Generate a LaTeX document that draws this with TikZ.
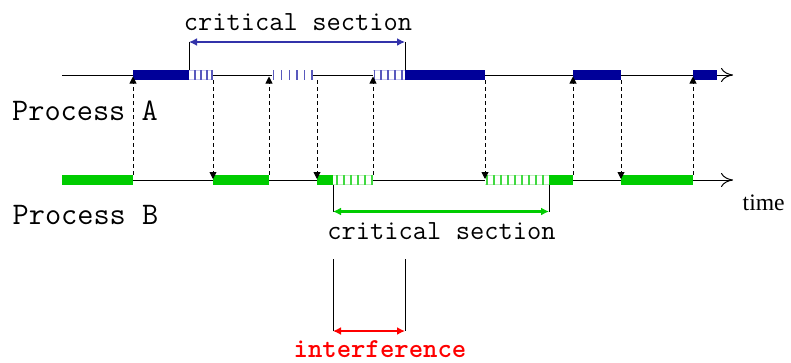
\documentclass[tikz,border=0pt]{standalone}
\usepackage{fontspec}
\setmainfont{Liberation Serif}
\usetikzlibrary{arrows.meta}
\definecolor{barA}{RGB}{0,0,153}
\definecolor{barB}{RGB}{0,204,0}
\definecolor{arrA}{RGB}{51,51,170}
\definecolor{arrB}{RGB}{0,204,0}
\definecolor{hatchA}{RGB}{200,200,240}
\definecolor{hatchB}{RGB}{190,240,190}
\begin{document}
\begin{tikzpicture}[x=1pt,y=-1pt,
  axis/.style={line width=1pt,-{To[length=12,width=14]}},
  signal/.style={line width=0.9pt,dash pattern=on 4pt off 3pt,-{Triangle[length=7,width=7]}},
  solidA/.style={fill=barA,draw=none},
  solidB/.style={fill=barB,draw=none},
  bracket/.style={line width=0.9pt},
  span/.style={line width=2.6pt,{Latex[length=8,width=8]}-{Latex[length=8,width=8]}},
  mono/.style={font=\ttfamily\fontsize{27.7}{30}\selectfont,inner sep=0pt,anchor=base},
  lbl/.style={font=\ttfamily\fontsize{31.4}{34}\selectfont,inner sep=0pt,anchor=base west}]
\useasboundingbox (0,0) rectangle (791,362);
% timelines
\coordinate (Astart) at (62,75);
\coordinate (Aend) at (733,75);
\coordinate (Bstart) at (62,180);
\coordinate (Bend) at (733,180);
\draw[axis] (Astart) -- (Aend);
\draw[axis] (Bstart) -- (Bend);
% Process A bars
\fill[solidA] (133,70) rectangle (189,80);
\fill[solidA] (405,70) rectangle (485,80);
\fill[solidA] (573,70) rectangle (621,80);
\fill[solidA] (693,70) rectangle (717,80);
% A hatched
\fill[white] (189,70) rectangle (213,80);
\draw[hatchA,line width=0.6pt] (189,70.3) -- (213,70.3) (189,79.7) -- (213,79.7);
\foreach \x in {195,201,207,212} \fill[barA!65!white] (\x-0.9,70) rectangle (\x+0.9,80);
\fill[white] (272,70) rectangle (313,80);
\foreach \x in {273.5,281.5,289.5,297,304.5,312} \fill[barA!65!white] (\x-0.9,70) rectangle (\x+0.9,80);
\fill[white] (373,70) rectangle (405,80);
\draw[hatchA,line width=0.6pt] (373,70.3) -- (405,70.3) (373,79.7) -- (405,79.7);
\foreach \x in {374.5,381,388,395,402} \fill[barA!65!white] (\x-0.9,70) rectangle (\x+0.9,80);
% Process B bars
\fill[solidB] (62,174.5) rectangle (133,184.5);
\fill[solidB] (213,174.5) rectangle (269,184.5);
\fill[solidB] (317,174.5) rectangle (333,184.5);
\fill[solidB] (549,174.5) rectangle (573,184.5);
\fill[solidB] (621,174.5) rectangle (693,184.5);
% B hatched
\fill[white] (333,174.5) rectangle (373,184.5);
\draw[hatchB,line width=0.6pt] (333,174.8) -- (373,174.8) (333,184.2) -- (373,184.2);
\foreach \x in {337,344,351,358,365,372} \fill[barB!75!white] (\x-0.9,174.5) rectangle (\x+0.9,184.5);
\fill[white] (485,174.5) rectangle (549,184.5);
\draw[hatchB,line width=0.6pt] (485,174.8) -- (549,174.8) (485,184.2) -- (549,184.2);
\foreach \x in {487,494,501,508,515,522,529,536,543} \fill[barB!75!white] (\x-0.9,174.5) rectangle (\x+0.9,184.5);
% signals B -> A (up) and A -> B (down)
\foreach \x in {133,269,373,573,693}{
  \coordinate (bu\x) at (\x,174.5);
  \coordinate (au\x) at (\x,76.5);
  \draw[signal] (bu\x) -- (au\x);
}
\foreach \x in {213,317,485,621}{
  \coordinate (ad\x) at (\x,80);
  \coordinate (bd\x) at (\x,179);
  \draw[signal] (ad\x) -- (bd\x);
}
% critical section A
\coordinate (ca1) at (189,70); \coordinate (ca1t) at (189,42);
\coordinate (ca2) at (405,70); \coordinate (ca2t) at (405,42);
\draw[bracket] (ca1) -- (ca1t);
\draw[bracket] (ca2) -- (ca2t);
\draw[span,arrA] (ca1t) -- (ca2t);
\node[mono] (csA) at (298,30) {critical section};
% critical section B
\coordinate (cb1) at (333,184.5); \coordinate (cb1b) at (333,211.5);
\coordinate (cb2) at (549,184.5); \coordinate (cb2b) at (549,211.5);
\draw[bracket] (cb1) -- (cb1b);
\draw[bracket] (cb2) -- (cb2b);
\draw[span,arrB] (cb1b) -- (cb2b);
\node[mono] (csB) at (441.5,239.5) {critical section};
% interference
\coordinate (i1) at (333,259); \coordinate (i1b) at (333,331);
\coordinate (i2) at (405,259); \coordinate (i2b) at (405,331);
\draw[bracket] (i1) -- (i1b);
\draw[bracket] (i2) -- (i2b);
\draw[span,red] (i1b) -- (i2b);
\node[mono,font=\ttfamily\bfseries\fontsize{27.4}{30}\selectfont,text=red] (intf) at (380,357.5) {interference};
% labels
\node[lbl] (pA) at (12,120) {Process A};
\node[lbl] (pB) at (12.5,224) {Process B};
\node[font=\fontsize{23.6}{26}\selectfont,inner sep=0pt,anchor=base west] (time) at (742.5,210.5) {time};
\end{tikzpicture}
\end{document}
